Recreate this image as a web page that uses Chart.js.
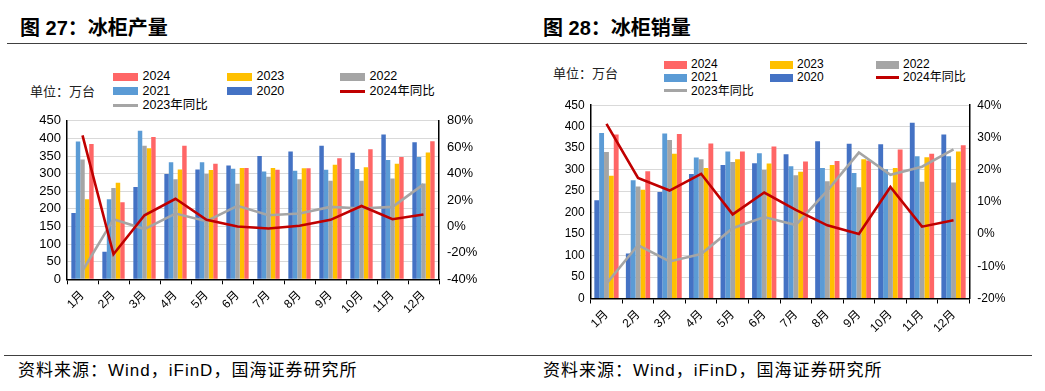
<!DOCTYPE html>
<html><head><meta charset="utf-8">
<script src="https://cdn.jsdelivr.net/npm/chart.js@4/dist/chart.umd.min.js"></script>
<style>
html,body{margin:0;padding:0;background:#fff;}
body{width:1045px;height:391px;position:relative;overflow:hidden;font-family:"Liberation Sans","Noto Sans CJK SC",sans-serif;color:#000;}
.abs{position:absolute;white-space:nowrap;}
.title{font-size:20px;font-weight:bold;line-height:22px;}
.rule{position:absolute;height:1px;background:#404040;}
.unit{font-size:13px;color:#222;line-height:14px;}
.src{font-size:17px;line-height:20px;color:#000;letter-spacing:1px;}
canvas{position:absolute;}
</style>
</head><body>
<div class="abs title" style="left:20px;top:17px;">图 27：冰柜产量</div>
<div class="abs title" style="left:543px;top:17px;">图 28：冰柜销量</div>
<div class="rule" style="left:7px;top:43px;width:1020px;"></div>
<div class="abs unit" style="left:30px;top:85px;">单位：万台</div>
<div class="abs unit" style="left:553px;top:67px;">单位：万台</div>
<div id="leg1"></div>
<div id="leg2"></div>
<canvas id="c1" width="520" height="235" style="left:0;top:105px;"></canvas>
<canvas id="c2" width="525" height="250" style="left:520px;top:90px;"></canvas>
<div class="rule" style="left:4px;top:355px;width:1028px;"></div>
<div class="abs src" style="left:18px;top:361px;">资料来源：Wind，iFinD，国海证券研究所</div>
<div class="abs src" style="left:543px;top:361px;">资料来源：Wind，iFinD，国海证券研究所</div>
<script>
// ---- Data ----
const months = ['1月','2月','3月','4月','5月','6月','7月','8月','9月','10月','11月','12月'];
const seriesNames = ['2020','2021','2022','2023','2024'];
const yoyNames = ['2024年同比','2023年同比'];

// 图27 冰柜产量 (万台)
const prod2020 = [188, 78,262,299,312,323,350,363,379,359,411,389];
const prod2021 = [391,227,422,332,332,314,306,308,311,313,339,347];
const prod2022 = [340,259,379,284,299,271,291,284,280,280,286,272];
const prod2023 = [227,274,372,312,310,316,316,315,325,318,328,360];
const prod2024 = [384,219,404,379,328,316,311,315,344,369,347,392];
const prodYoy2024 = [69,-21,8.5,21,5,0,-1.5,0.5,5,15.5,5.5,9];
const prodYoy2023 = [-33.5,5.5,-2,9.8,4,15.6,8.5,9.8,14.8,13.6,14.8,31.9];

// 图28 冰柜销量 (万台)
const sales2020 = [229,105,248,290,311,315,336,366,360,359,409,382];
const sales2021 = [385,275,384,328,342,338,308,304,292,301,331,331];
const sales2022 = [341,261,369,324,318,299,287,273,259,257,272,270];
const sales2023 = [286,253,337,304,324,314,295,311,324,304,329,342];
const sales2024 = [382,296,383,361,342,354,319,320,321,347,337,357];
const salesYoy2024 = [34.2,17.4,13.5,18.7,6.1,12.9,7.5,2.7,0,14.6,2.3,4.3];
const salesYoy2023 = [-15.4,-3.4,-8.5,-6.2,1.8,5.3,2.8,13.5,25.3,18.4,20.9,26.3];

// ---- Styles ----
const barColors = ['#4472C4','#5B9BD5','#A5A5A5','#FFC000','#FF6666'];
const lineColors = ['#C00000','#A5A5A5'];

function buildLegend(id, o){
  const el = document.getElementById(id);
  const items = [
    {n:seriesNames[4], c:barColors[4], t:'bar'},
    {n:seriesNames[3], c:barColors[3], t:'bar'},
    {n:seriesNames[2], c:barColors[2], t:'bar'},
    {n:seriesNames[1], c:barColors[1], t:'bar'},
    {n:seriesNames[0], c:barColors[0], t:'bar'},
    {n:yoyNames[0], c:lineColors[0], t:'line'},
    {n:yoyNames[1], c:lineColors[1], t:'line'}
  ];
  items.forEach((it,i)=>{
    const col = i%3, row = Math.floor(i/3);
    const x = o.cols[col], y = o.rows[row];
    const sw = document.createElement('div');
    sw.className='abs';
    if(it.t==='bar'){
      sw.style.cssText = `left:${x}px;top:${y-o.bh/2}px;width:${o.bw}px;height:${o.bh}px;background:${it.c};`;
    } else {
      sw.style.cssText = `left:${x}px;top:${y-1.5}px;width:${o.bw}px;height:3px;background:${it.c};`;
    }
    el.appendChild(sw);
    const tx = document.createElement('div');
    tx.className='abs';
    tx.textContent = it.n;
    tx.style.cssText = `left:${x+o.bw+o.gap}px;top:${y-o.fs*0.6}px;font-size:${o.fs}px;line-height:${o.fs*1.2}px;color:#000;`;
    el.appendChild(tx);
  });
}
buildLegend('leg1',{cols:[113,227,340],rows:[76.7,91.3,105.5],bw:25,bh:8,gap:4.5,fs:12.5});
buildLegend('leg2',{cols:[664,770,876],rows:[64.5,77.5,90.7],bw:23,bh:8,gap:4,fs:12});

function makeChart(id, bars, yoys, o){
  const datasets = [];
  bars.forEach((d,i)=>datasets.push({type:'bar',label:seriesNames[i],data:d,backgroundColor:barColors[i],
    borderWidth:0,yAxisID:'y',order:5,categoryPercentage:o.cat,barPercentage:1}));
  yoys.forEach((d,i)=>datasets.push({type:'line',label:yoyNames[i],data:d,borderColor:lineColors[i],
    backgroundColor:lineColors[i],borderWidth:2.6,pointRadius:0,tension:0,yAxisID:'y1',order:i===0?0:1}));
  const tickFont = {family:'"Liberation Sans", Arial, sans-serif', size:o.fs};
  return new Chart(document.getElementById(id),{
    data:{labels:months,datasets},
    options:{
      responsive:false,animation:false,
      layout:{padding:{top:o.padTop,left:0,right:0,bottom:0}},
      plugins:{legend:{display:false},tooltip:{enabled:false}},
      scales:{
        x:{type:'category',offset:true,
          grid:{offset:true,drawOnChartArea:false,drawTicks:true,tickLength:5,color:'#000',lineWidth:1},
          border:{color:'#000',width:1.5},
          ticks:{autoSkip:false,minRotation:45,maxRotation:45,color:'#000',padding:4,
            font:{family:'"Liberation Sans","Noto Sans CJK SC",sans-serif',size:12}},
          afterFit:s=>{s.height=o.xh;}
        },
        y:{position:'left',min:0,max:450,
          ticks:{stepSize:50,autoSkip:false,color:'#000',font:tickFont,padding:6},
          grid:{color:'#D9D9D9',lineWidth:1,drawTicks:false},
          border:{color:'#000',width:1.5},
          afterFit:s=>{s.width=o.yl;}
        },
        y1:{position:'right',min:o.rmin,max:o.rmax,
          ticks:{stepSize:o.rstep,autoSkip:false,color:'#000',font:tickFont,padding:8,callback:v=>v+'%'},
          grid:{drawOnChartArea:false,drawTicks:false},
          border:{color:'#000',width:1.5},
          afterFit:s=>{s.width=o.yr;}
        }
      }
    }
  });
}

makeChart('c1',[prod2020,prod2021,prod2022,prod2023,prod2024],[prodYoy2024,prodYoy2023],
  {cat:0.72,padTop:15.3,yl:67,yr:81,xh:60.7,rmin:-40,rmax:80,rstep:20,fs:13});
makeChart('c2',[sales2020,sales2021,sales2022,sales2023,sales2024],[salesYoy2024,salesYoy2023],
  {cat:0.77,padTop:12.7,yl:70.7,yr:75.7,xh:41.5,rmin:-20,rmax:40,rstep:10,fs:12});
</script>
</body></html>
